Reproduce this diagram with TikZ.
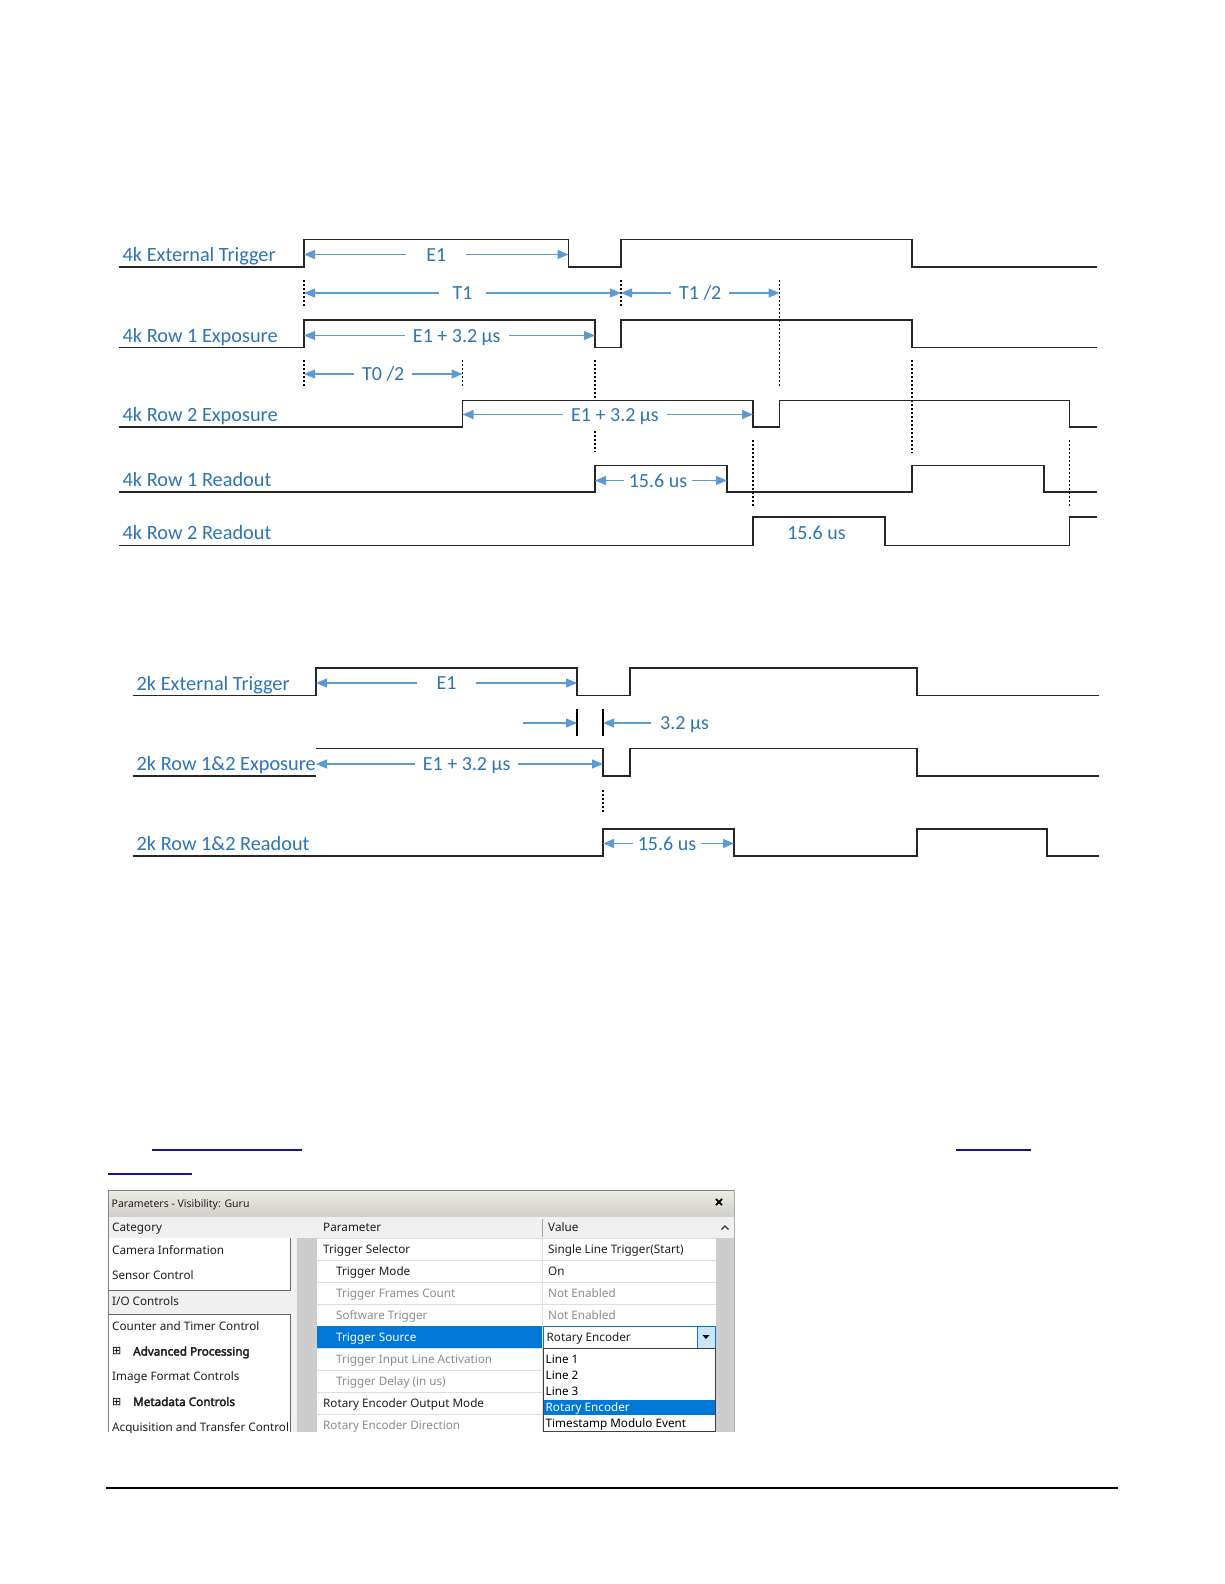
\documentclass[tikz,border=0pt]{standalone}
\usepackage{fontspec}
\setmainfont{Carlito}
\newfontfamily\guifont{Noto Sans}
\newfontfamily\guiboldfont{Noto Sans}[FakeBold=3]
\newfontfamily\iconfont{DejaVu Sans}
\usetikzlibrary{arrows.meta}
\definecolor{lblblue}{RGB}{46,117,182}
\definecolor{dimblue}{RGB}{91,155,213}
\definecolor{wavegray}{RGB}{38,38,38}
\definecolor{linknavy}{RGB}{20,20,140}
\definecolor{selblue}{RGB}{0,120,215}
\definecolor{framegray}{RGB}{130,130,130}
\definecolor{hdrgray}{RGB}{240,240,240}
\definecolor{stripgray}{RGB}{205,205,205}
\definecolor{gridgray}{RGB}{222,222,222}
\definecolor{btnblue}{RGB}{204,228,247}
\definecolor{dimgrey}{RGB}{140,140,140}
\definecolor{barlight}{RGB}{236,235,230}
\definecolor{bardark}{RGB}{208,207,202}
\begin{document}
\begin{tikzpicture}[x=1pt, y=-1pt, >={Triangle[length=11pt, width=9pt]},
        wave/.style={draw=wavegray, line width=1.7pt},
        guide/.style={draw=black, line width=1.4pt, dash pattern=on 2pt off 2pt},
        edgetick/.style={draw=black, line width=1.2pt},
        dim/.style={draw=dimblue, line width=1.3pt},
        sig/.style={anchor=west, inner sep=0pt, text=lblblue, font=\fontsize{20.3}{24}\selectfont, text height=13pt, text depth=0pt},
        val/.style={fill=white, inner xsep=8pt, inner ysep=1pt, text=lblblue, font=\fontsize{20}{24}\selectfont, text height=13pt, text depth=0pt},
        hlink/.style={draw=linknavy, line width=1.3pt},
        gui/.style={anchor=west, inner sep=0pt, text=black!88, font=\guifont\fontsize{11.7}{14}\selectfont, text height=8.5pt, text depth=0pt},
        guibold/.style={gui, font=\guiboldfont\fontsize{11.7}{14}\selectfont},
        plusbox/.style={inner sep=0pt, font=\iconfont\fontsize{11}{12}\selectfont}]
        \fill[white] (0,0) rectangle (1224,1584);
        \useasboundingbox (0,0) rectangle (1224,1584);

        % 4k sensor
        \node[sig] (ext4) at (122.5,254.5) {4k External Trigger};
        \node[sig] (exp41) at (122.5,335.5) {4k Row 1 Exposure};
        \node[sig] (exp42) at (122.5,415) {4k Row 2 Exposure};
        \node[sig] (rd41) at (122.5,480) {4k Row 1 Readout};
        \node[sig] (rd42) at (122.5,533) {4k Row 2 Readout};

        \draw[wave] (119,267) -| (304,239.5) -| (568.5,267) -| (621,239.5) -| (912,267) -- (1097,267);
        \draw[wave] (119,347.5) -| (304,320) -| (595,347.5) -| (621,320) -| (912,347.5) -- (1097,347.5);
        \draw[wave] (119,427) -| (462.5,400.5) -| (753,427) -| (779.5,400.5) -| (1069.5,427) -- (1097,427);
        \draw[wave] (119,492) -| (595,465.5) -| (727,492) -| (912,465.5) -| (1044,492) -- (1097,492);
        \draw[wave] (119,545.5) -| (753,517) -| (885,545.5) -| (1069.5,517) -- (1097,517);

        \draw[guide] (304,280) -- (304,307);
        \draw[guide] (304,360) -- (304,388);
        \draw[guide] (621,280) -- (621,307);
        \draw[guide] (779.5,280) -- (779.5,386);
        \draw[guide] (462.5,360) -- (462.5,388);
        \draw[guide] (595,360) -- (595,400);
        \draw[guide] (595,431) -- (595,452);
        \draw[guide] (912,360) -- (912,453);
        \draw[guide] (753,440) -- (753,506);
        \draw[guide] (1069.5,440) -- (1069.5,506);

        \coordinate (e1a) at (304,254.5);
        \coordinate (e1b) at (568.5,254.5);
        \coordinate (t1a) at (304,293);
        \coordinate (t1b) at (621,293);
        \coordinate (t1c) at (779.5,293);
        \coordinate (x1a) at (304,335.5);
        \coordinate (x1b) at (595,335.5);
        \coordinate (t0a) at (304,374);
        \coordinate (t0b) at (462.5,374);
        \coordinate (x2a) at (462.5,414.5);
        \coordinate (x2b) at (753,414.5);
        \coordinate (r1a) at (595,480.5);
        \coordinate (r1b) at (727,480.5);
        \draw[dim, <->] (e1a) -- node[val, inner xsep=20pt] (e1) {E1} (e1b);
        \draw[dim, <->] (t1a) -- node[val, inner xsep=14pt] (t1) {T1} (t1b);
        \draw[dim, <->] (t1b) -- node[val] (t1h) {T1 /2} (t1c);
        \draw[dim, <->] (x1a) -- node[val, pos=0.525] (x1) {E1 + 3.2 µs} (x1b);
        \draw[dim, <->] (t0a) -- node[val] (t0h) {T0 /2} (t0b);
        \draw[dim, <->] (x2a) -- node[val, pos=0.525] (x2) {E1 + 3.2 µs} (x2b);
        \draw[dim, <->] (r1a) -- node[val, pos=0.477, inner xsep=5pt] (r1) {15.6 us} (r1b);
        \node[val] (r2) at (816.5,532.5) {15.6 us};

        % 2k sensor
        \node[sig] (ext2) at (136.5,683.5) {2k External Trigger};
        \node[sig] (exp2) at (136.5,763.5) {2k Row 1\&2 Exposure};
        \node[sig] (rd2) at (136.5,843.5) {2k Row 1\&2 Readout};

        \draw[wave] (132.5,695.5) -| (316,668) -| (577,695.5) -| (630,668) -| (917,695.5) -- (1099,695.5);
        \draw[wave] (132.5,776) -- (316,776);
        \draw[wave] (316,748.5) -| (603,776) -| (630,748.5) -| (917,776) -- (1099,776);
        \draw[wave] (132.5,856) -| (603,829) -| (734,856) -| (917,829) -| (1047,856) -- (1099,856);

        \draw[edgetick] (577,709) -- (577,736);
        \draw[edgetick] (603,709) -- (603,736);
        \draw[guide] (603,790) -- (603,814);

        \coordinate (f1a) at (316,683);
        \coordinate (f1b) at (577,683);
        \coordinate (s0) at (523,723);
        \coordinate (s1) at (577,723);
        \coordinate (s2) at (603,723);
        \coordinate (f2a) at (316,764);
        \coordinate (f2b) at (603,764);
        \coordinate (f3a) at (603,843.5);
        \coordinate (f3b) at (734,843.5);
        \draw[dim, <->] (f1a) -- node[val, inner xsep=20pt] (f1) {E1} (f1b);
        \draw[dim, ->] (s0) -- (s1);
        \node[val, anchor=west, inner xsep=9pt] (d32) at (651,723) {3.2 µs};
        \draw[dim, ->] (d32) -- (s2);
        \draw[dim, <->] (f2a) -- node[val, pos=0.525] (f2) {E1 + 3.2 µs} (f2b);
        \draw[dim, <->] (f3a) -- node[val, pos=0.488, inner xsep=5pt] (f3) {15.6 us} (f3b);

        % link underlines and footer rule
        \draw[hlink] (151.5,1150) -- (302,1150);
        \draw[hlink] (955.5,1150) -- (1031,1150);
        \draw[hlink] (108,1174) -- (192,1174);
        \draw[line width=1.5pt] (106,1488) -- (1118,1488);

        % parameters window
        \begin{scope}
        \clip (107.5,1190) rectangle (734.5,1432);
        \fill[white] (108,1190.5) rectangle (734,1432);
        \shade[top color=barlight, bottom color=bardark] (108,1190.5) rectangle (734,1216.5);
        \node[gui, font=\guifont\fontsize{10.5}{12}\selectfont] (ttl) at (111.5,1203.5) {Parameters - Visibility: Guru};
        \node[inner sep=0pt, font=\guiboldfont\fontsize{15}{16}\selectfont] (cls) at (719,1203) {×};

        \fill[hdrgray] (108,1216.5) rectangle (734,1238);
        \draw[gridgray] (108,1238) -- (716,1238);
        \draw[black!35] (542.3,1219) -- (542.3,1237);
        \node[gui] (hcat) at (112,1227.5) {Category};
        \node[gui] (hpar) at (323,1227.5) {Parameter};
        \node[gui] (hval) at (548,1227.5) {Value};

        \fill[hdrgray] (108,1238) rectangle (296.7,1432);
        \fill[white] (108,1238) rectangle (290.5,1290);
        \draw[black!60] (290.5,1238) |- (108,1290);
        \draw[black!70, line width=1.2pt] (108.6,1290) -- (108.6,1314.3);
        \fill[white] (108,1314.3) rectangle (290.5,1432);
        \draw[black!60] (108,1314.3) -| (290.5,1432);
        \fill[stripgray] (296.7,1238) rectangle (316.7,1432);

        \node[gui] (c0) at (112,1250.5) {Camera Information};
        \node[gui] (c1) at (112,1275.7) {Sensor Control};
        \node[gui] (c2) at (112,1300.9) {I/O Controls};
        \node[gui] (c3) at (112,1326.1) {Counter and Timer Control};
        \node[plusbox] (c4i) at (116.7,1351.3) {⊞};
        \node[guibold] (c4) at (133,1351.3) {Advanced Processing};
        \node[gui] (c5) at (112,1376.5) {Image Format Controls};
        \node[plusbox] (c6i) at (116.7,1401.7) {⊞};
        \node[guibold] (c6) at (133,1401.7) {Metadata Controls};
        \node[gui] (c7) at (112,1426.9) {Acquisition and Transfer Control};

        \fill[white] (316.7,1238.5) rectangle (716,1432);
        \foreach \k in {1,...,8}
            \draw[gridgray] (316.7,{1237.7+22.1*\k}) -- (716,{1237.7+22.1*\k});
        \draw[gridgray] (542.3,1238) -- (542.3,1432);
        \fill[selblue] (316.7,1326.1) rectangle (542.3,1348.2);

        \node[gui] (p0) at (323,1248.8) {Trigger Selector};
        \node[gui] (p1) at (336,1270.9) {Trigger Mode};
        \node[gui, text=dimgrey] (p2) at (336,1293) {Trigger Frames Count};
        \node[gui, text=dimgrey] (p3) at (336,1315.1) {Software Trigger};
        \node[gui, text=white] (p4) at (336,1337.2) {Trigger Source};
        \node[gui, text=dimgrey] (p5) at (336,1359.3) {Trigger Input Line Activation};
        \node[gui, text=dimgrey] (p6) at (336,1381.4) {Trigger Delay (in us)};
        \node[gui] (p7) at (323,1403.5) {Rotary Encoder Output Mode};
        \node[gui, text=dimgrey] (p8) at (323,1425.6) {Rotary Encoder Direction};

        \node[gui] (v0) at (548,1248.8) {Single Line Trigger(Start)};
        \node[gui] (v1) at (548,1270.9) {On};
        \node[gui, text=dimgrey] (v2) at (548,1293) {Not Enabled};
        \node[gui, text=dimgrey] (v3) at (548,1315.1) {Not Enabled};

        \draw[selblue, fill=white] (542.8,1326.6) rectangle (715.5,1347.7);
        \draw[selblue, fill=btnblue] (696.7,1326.6) rectangle (715.5,1347.7);
        \fill[black] (702.5,1335) -- (709.5,1335) -- (706,1339) -- cycle;
        \node[gui] (v4) at (546.5,1337.2) {Rotary Encoder};

        \draw[black!75, fill=white] (542.8,1348.2) rectangle (715.5,1431.5);
        \fill[selblue] (543.5,1399.5) rectangle (715,1414.5);
        \node[gui, text=black] (l1) at (545.5,1359) {Line 1};
        \node[gui, text=black] (l2) at (545.5,1375) {Line 2};
        \node[gui, text=black] (l3) at (545.5,1391) {Line 3};
        \node[gui, text=white] (l4) at (545.5,1407) {Rotary Encoder};
        \node[gui, text=black] (l5) at (545.5,1423) {Timestamp Modulo Event};

        \fill[hdrgray] (716,1216.5) rectangle (734,1238);
        \fill[stripgray] (716,1238) rectangle (734,1432);
        \draw[black!80, line width=1.2pt] (721.5,1229.5) -- (725,1226) -- (728.5,1229.5);

        \draw[framegray] (108,1432) |- (734,1190.5) -- (734,1432);
        \end{scope}
    \end{tikzpicture}
\end{document}
